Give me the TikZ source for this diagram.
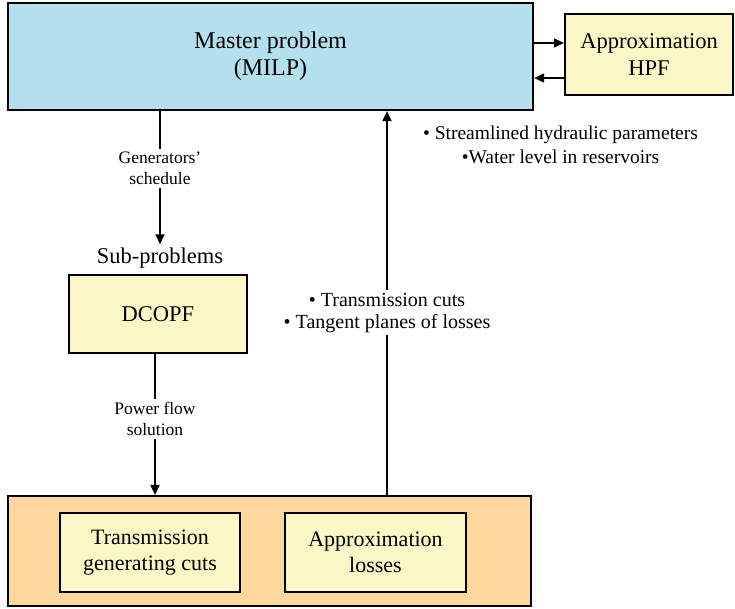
\documentclass[tikz,border=0pt]{standalone}
\usepackage{fontspec}
\setmainfont{Liberation Serif}
\usepackage{xcolor}
\usetikzlibrary{arrows.meta,positioning,calc}
\definecolor{masterBlue}{RGB}{180,224,238}
\definecolor{subYellow}{RGB}{252,247,198}
\definecolor{cutOrange}{RGB}{253,215,155}
\tikzset{
  box/.style={rectangle, draw=black, line width=2.2pt, align=center, inner sep=0pt, font=\fontsize{22.5}{27}\selectfont},
  arrow/.style={-{Triangle[length=10pt,width=9pt]}, line width=1.8pt, draw=black},
  flowlabel/.style={fill=white, align=center, inner sep=3pt, font=\fontsize{17.5}{21}\selectfont},
  notelabel/.style={align=center, font=\fontsize{19.5}{24}\selectfont}
}
\begin{document}
\begin{tikzpicture}[x=1pt, y=-1pt]
  \useasboundingbox (0,0) rectangle (735,609);
  \node[box, fill=masterBlue, minimum width=525pt, minimum height=107pt, font=\fontsize{24}{27}\selectfont] (master) at (270.5,56.5) {Master problem\\(MILP)};
  \node[box, fill=subYellow, minimum width=168pt, minimum height=81pt] (hpf) at (649,54.5) {Approximation\\HPF};
  \node[font=\fontsize{22.5}{27}\selectfont] (sub) at (160,258) {Sub-problems};
  \node[box, fill=subYellow, minimum width=178pt, minimum height=78pt] (dcopf) at (158,314) {DCOPF};
  \node[box, fill=cutOrange, minimum width=523pt, minimum height=110pt] (cuts) at (269.5,551) {};
  \node[box, fill=subYellow, minimum width=180pt, minimum height=79pt, font=\fontsize{22}{26}\selectfont] (tgc) at (150,552.5) {Transmission\\generating cuts};
  \node[box, fill=subYellow, minimum width=181pt, minimum height=79pt, font=\fontsize{22}{26}\selectfont] (loss) at (375.5,552.5) {Approximation\\losses};
  \node[notelabel] (hydro) at (560.5,145) {\textbullet{} Streamlined hydraulic parameters\\\textbullet Water level in reservoirs};
  \draw[arrow] ([yshift=13.5pt]master.east) -- ([yshift=13.5pt]master.east -| hpf.west);
  \draw[arrow] ([yshift=-21.5pt]master.east -| hpf.west) -- ([yshift=-21.5pt]master.east);
  \draw[arrow] (master.south -| sub.north) -- node[flowlabel, pos=0.43] {Generators'\\schedule} (sub.north);
  \draw[arrow] ([xshift=-3pt]dcopf.south) -- node[flowlabel, pos=0.46] {Power flow\\solution} ([xshift=-3pt]dcopf.south |- cuts.north);
  \draw[arrow] ([xshift=117.5pt]cuts.north) coordinate (upfoot) -- node[flowlabel, pos=0.475, font=\fontsize{20}{22}\selectfont] {\textbullet{} Transmission cuts\\\textbullet{} Tangent planes of losses} (upfoot |- master.south);
\end{tikzpicture}
\end{document}
